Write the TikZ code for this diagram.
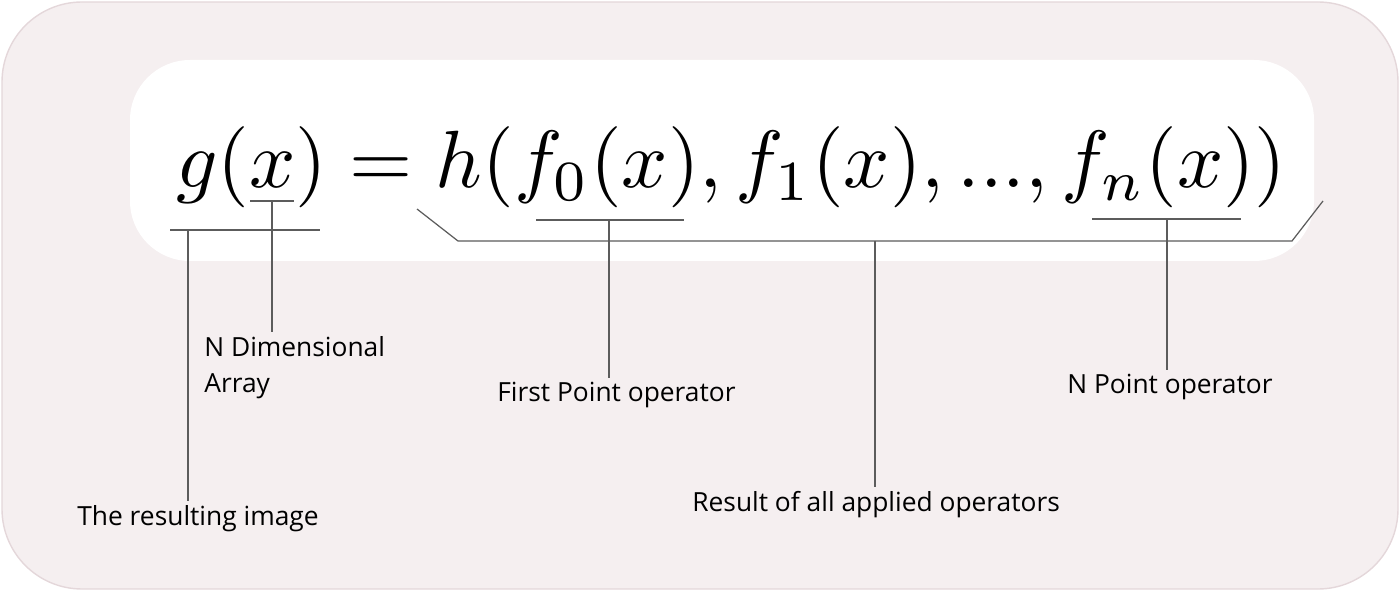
\documentclass[tikz,border=0pt]{standalone}
\usepackage{amsmath}
\usepackage[no-math]{fontspec}
\newfontfamily\tagfont{Open Sans}
\usepackage{tikz}
\usetikzlibrary{positioning}
\usepackage{xcolor}
\definecolor{panelpink}{HTML}{F5EFF0}
\definecolor{panelrim}{HTML}{E4D7DA}
\definecolor{leadgray}{HTML}{5C5C5C}

\begin{document}
\begin{tikzpicture}[x=0.02cm, y=-0.02cm,
  lead/.style={draw=leadgray, line width=0.7pt},
  tag/.style={font=\tagfont\fontsize{15}{20.5}\selectfont, inner sep=0pt, align=left}]
  \useasboundingbox (0,0) rectangle (1400,591);
  % panels
  \draw[fill=panelpink, draw=panelrim, line width=0.8pt, rounded corners=1.6cm] (2,2) rectangle (1398,589);
  \fill[white, rounded corners=1.2cm] (130,60) rectangle (1314,261);
  % equation
  \node[anchor=base west, inner sep=0pt] (eq) at (176,188)
    {\resizebox{22.2cm}{!}{$g(x) = h(f_0(x), f_1(x), ..., f_n(x))$}};
  % underlines
  \coordinate (g1) at (170,230);  \coordinate (g2) at (320,230);  \coordinate (gm) at (188,230);
  \coordinate (x1) at (250,201);  \coordinate (x2) at (294,201);  \coordinate (xm) at (272,201);
  \coordinate (f01) at (536,220); \coordinate (f02) at (684,220); \coordinate (f0m) at (609,220);
  \coordinate (fn1) at (1092,219); \coordinate (fn2) at (1241,219); \coordinate (fnm) at (1167,219);
  \coordinate (h1) at (417,209);  \coordinate (h2) at (458,241);
  \coordinate (h3) at (1292,241); \coordinate (h4) at (1323,201); \coordinate (hm) at (875,241);
  % labels
  \node[tag, anchor=base west] (resimg) at (77,525) {The resulting image};
  \node[tag, anchor=north west] (dimarr) at (204,336) {N Dimensional\\Array};
  \node[tag, anchor=base west] (firstop) at (497,401) {First Point operator};
  \node[tag, anchor=base west] (allops) at (692,511) {Result of all applied operators};
  \node[tag, anchor=base west] (nop) at (1067,393) {N Point operator};
  % lines
  \draw[lead] (g1) -- (g2);
  \draw[lead] (x1) -- (x2);
  \draw[lead] (f01) -- (f02);
  \draw[lead] (fn1) -- (fn2);
  \draw[lead] (h1) -- (h2) -- (h3) -- (h4);
  \draw[lead] (gm) -- ([yshift=2pt]gm |- resimg.north);
  \draw[lead] (xm) -- ([yshift=2pt]xm |- dimarr.north);
  \draw[lead] (f0m) -- ([yshift=2pt]f0m |- firstop.north);
  \draw[lead] (hm) -- ([yshift=2pt]hm |- allops.north);
  \draw[lead] (fnm) -- ([yshift=2pt]fnm |- nop.north);
\end{tikzpicture}
\end{document}
